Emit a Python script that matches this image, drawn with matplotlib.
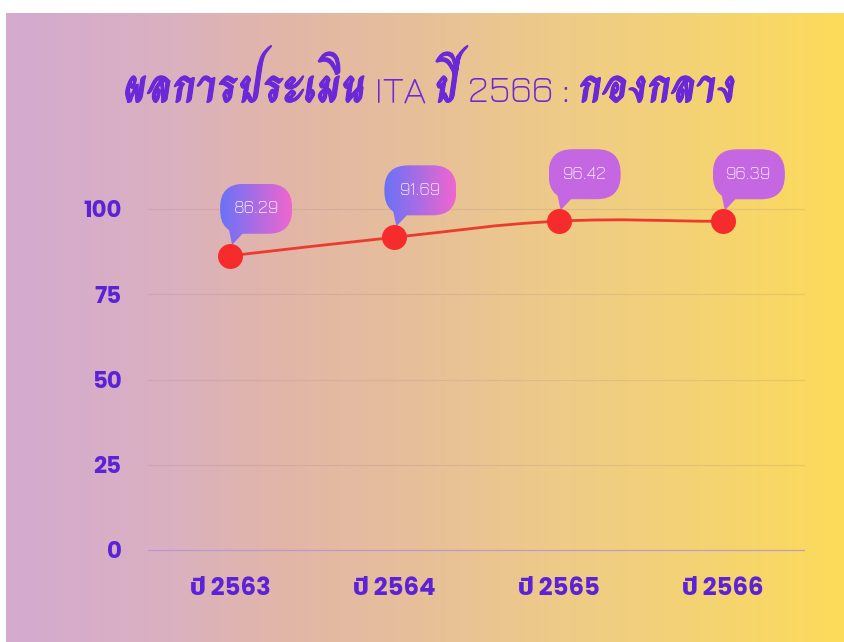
import numpy as np
import matplotlib; matplotlib.use("Agg")
import matplotlib.pyplot as plt
import matplotlib.patheffects as pe
from matplotlib.path import Path
from matplotlib.patches import FancyBboxPatch, Polygon, PathPatch
from matplotlib.transforms import IdentityTransform
from matplotlib.colors import LinearSegmentedColormap

years = ["ปี 2563", "ปี 2564", "ปี 2565", "ปี 2566"]
scores = [86.29, 91.69, 96.42, 96.39]
yticks = [0, 25, 50, 75, 100]
title_parts = ["ผลการประเมิน", " ITA ", "ปี", " 2566 : ", "กองกลาง"]

W, H = 844, 642
PURPLE = "#5b22d6"
TH = ["Charm", "Kanit", "DejaVu Sans"]
THIN = ["Jura", "DejaVu Sans"]
BOLD = ["Poppins", "Kanit", "Liberation Sans"]
fig = plt.figure(figsize=(W / 100, H / 100), dpi=100)

bg = fig.add_axes([6 / W, 0, 1 - 6 / W, 1 - 13 / H]); bg.axis("off")
cmap = LinearSegmentedColormap.from_list("bg", [(0, "#d4aad0"), (0.2, "#dab1bf"), (0.33, "#e2b6a8"),
    (0.5, "#e7c099"), (0.66, "#eecb88"), (0.83, "#f4d374"), (1, "#fddb5a")])
bg.imshow(np.linspace(0, 1, 256)[None, :], cmap=cmap, aspect="auto", extent=[0, 1, 0, 1])
bg.set_xlim(0, 1); bg.set_ylim(0, 1)

# main axes: value 0 sits at pixel row 550, 3.41 px per unit
Y0, PPU, YMIN, YMAX = 550, 3.41, -3, 122
bot, top = Y0 - YMIN * PPU, Y0 - YMAX * PPU
ax = fig.add_axes([148 / W, (H - bot) / H, 657 / W, (bot - top) / H])
ax.patch.set_alpha(0)
for s in ax.spines.values(): s.set_visible(False)
ax.set_xlim(-0.5, 3.5); ax.set_ylim(YMIN, YMAX)
x = np.arange(len(years))
for t in yticks:
    ax.axhline(t, color="#b48fd8" if t == 0 else "#a07a80", alpha=0.8 if t == 0 else 0.18, lw=0.9, zorder=1)
ax.set_yticks(yticks); ax.set_xticks(x, years)
ax.tick_params(length=0)
ax.tick_params(axis="y", pad=19)
ax.tick_params(axis="x", pad=12)
for lb in ax.get_yticklabels():
    lb.set_fontfamily(BOLD); lb.set_fontweight("bold"); lb.set_fontsize(16.5); lb.set_color(PURPLE)
for lb in ax.get_xticklabels():
    lb.set_fontfamily(BOLD); lb.set_fontweight("bold"); lb.set_fontsize(17.5); lb.set_color(PURPLE)

fig.canvas.draw()
inv = ax.transData.inverted()
pix = ax.transData.transform(np.column_stack([x, scores]))  # display px, y up

# smooth line (Chart.js style spline, tension 0.4) in pixel space
P = pix; n = len(P); T = 0.4
cp_prev, cp_next = [None] * n, [None] * n
for i in range(n):
    prv = P[max(i - 1, 0)]; nxt = P[min(i + 1, n - 1)]; cur = P[i]
    d01 = np.hypot(*(cur - prv)); d12 = np.hypot(*(nxt - cur))
    s01 = d01 / (d01 + d12) if d01 + d12 else 0; s12 = d12 / (d01 + d12) if d01 + d12 else 0
    cp_prev[i] = cur - T * s01 * (nxt - prv); cp_next[i] = cur + T * s12 * (nxt - prv)
verts = [P[0]]; codes = [Path.MOVETO]
for i in range(n - 1):
    verts += [cp_next[i], cp_prev[i + 1], P[i + 1]]; codes += [Path.CURVE4] * 3
verts = inv.transform(np.array(verts))
ax.add_patch(PathPatch(Path(verts, codes), fill=False, edgecolor="#ec3b2e", lw=2, zorder=3))
ax.plot(x, scores, "o", ms=18, color="#f62c2c", mec="none", zorder=6)

# speech bubbles
bub_cmap = LinearSegmentedColormap.from_list("bub", ["#6a72f7", "#ef66cf"])
solid = LinearSegmentedColormap.from_list("sol", ["#c567e2", "#c567e2"])
bw, bh = 72, 50
for i, (px, py) in enumerate(pix):
    left, bottom = px - 10, py + 22
    cm = bub_cmap if i < 2 else solid
    box = FancyBboxPatch((left, bottom), bw, bh, boxstyle="round,pad=0,rounding_size=24",
                         transform=IdentityTransform(), fc="none", ec="none")
    tail = Polygon([(left + 8, bottom + 8), (left + 30, bottom + 8), (px + 2, py + 11)],
                   closed=True, transform=IdentityTransform(), fc="none", ec="none")
    ax.add_patch(box); ax.add_patch(tail)
    (dx0, dy0), (dx1, dy1) = inv.transform([(left, py + 8), (left + bw, bottom + bh)])
    for clip in (box, tail):
        im = ax.imshow(np.linspace(0, 1, 64)[None, :], cmap=cm, aspect="auto",
                       extent=[dx0, dx1, dy0, dy1], zorder=5, interpolation="bicubic")
        im.set_clip_path(clip)
    cx, cy = inv.transform((left + bw / 2, bottom + bh / 2))
    ax.text(cx, cy, f"{scores[i]:.2f}", ha="center", va="center", fontsize=13, color="#f3eaff",
            family=THIN, fontweight="light", zorder=7)
ax.set_xlim(-0.5, 3.5); ax.set_ylim(YMIN, YMAX)

# title built from pieces with different fonts
thai = dict(family=TH, fontweight="bold", fontsize=34,
            path_effects=[pe.withStroke(linewidth=0.8, foreground="#6a28d8")])
thin = dict(family=THIN, fontweight="light", fontsize=27)
styles = [thai, thin, thai, thin, thai]
r = fig.canvas.get_renderer()
arts = [fig.text(0, 0, s, color="#6a28d8", va="baseline", **st) for s, st in zip(title_parts, styles)]
widths = [a.get_window_extent(r).width for a in arts]
xpos = 430 - sum(widths) / 2
for a, w in zip(arts, widths):
    a.set_position((xpos / W, (H - 102) / H)); xpos += w

fig.savefig("out.png", dpi=100)
